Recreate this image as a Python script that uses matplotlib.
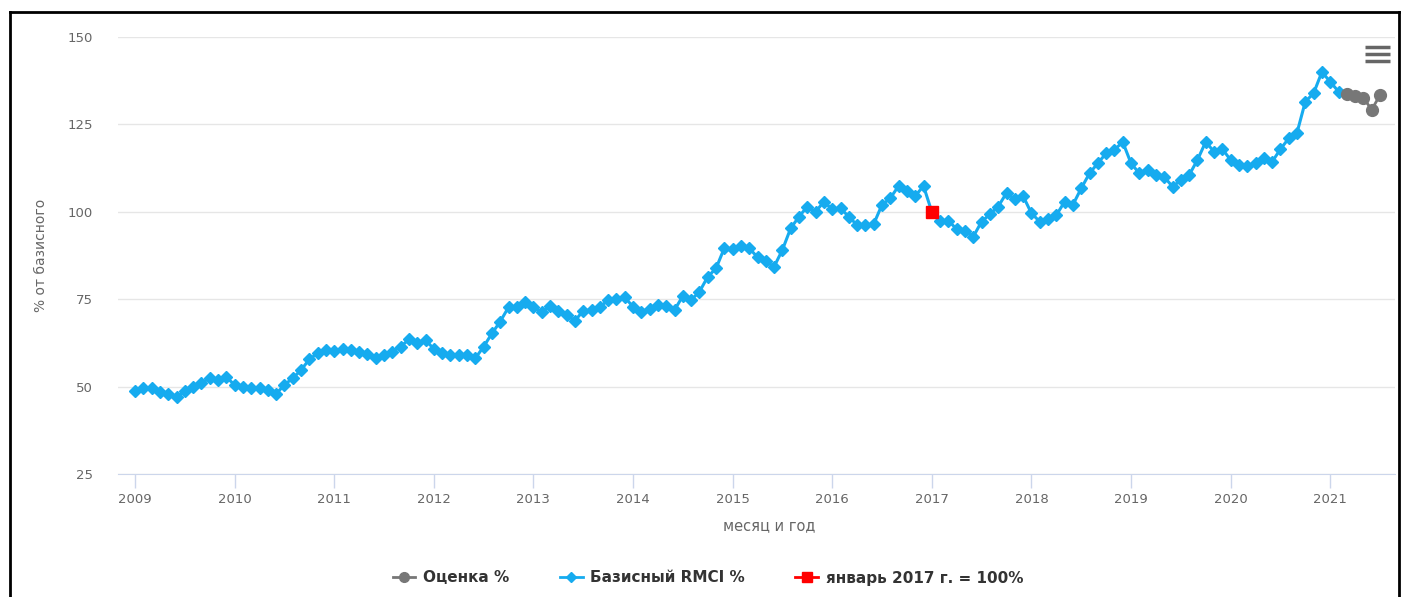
### Load packages

import matplotlib
matplotlib.use("Agg")
import matplotlib.pyplot as plt
from matplotlib.lines import Line2D
import numpy as np

### Data (monthly index, % of January 2017)

blue_values = [
    48.6, 49.5, 49.5, 48.5, 47.8, 46.9, 48.8, 50.0, 51.1, 52.4, 51.9, 52.7,    # 2009
    50.5, 50.0, 49.7, 49.5, 49.0, 47.9, 50.5, 52.4, 54.7, 57.8, 59.5, 60.5,    # 2010
    60.3, 60.7, 60.6, 60.0, 59.3, 58.1, 59.0, 60.0, 61.4, 63.5, 62.6, 63.3,    # 2011
    60.8, 59.5, 59.1, 59.1, 59.1, 58.1, 61.4, 65.2, 68.6, 72.7, 72.7, 74.3,    # 2012
    72.7, 71.4, 73.0, 71.7, 70.5, 68.8, 71.7, 71.9, 72.7, 74.8, 75.0, 75.5,    # 2013
    72.9, 71.4, 72.3, 73.3, 73.0, 71.9, 75.9, 74.8, 77.1, 81.4, 83.8, 89.6,    # 2014
    89.3, 90.2, 89.6, 87.0, 85.8, 84.3, 89.1, 95.3, 98.6, 101.5, 100.0, 102.9, # 2015
    100.7, 101.0, 98.6, 96.2, 96.2, 96.5, 102.0, 103.9, 107.4, 106.0, 104.5, 107.4,  # 2016
    100.0, 97.5, 97.5, 95.0, 94.4, 92.9, 97.2, 99.3, 101.5, 105.4, 103.6, 104.5,     # 2017
    99.6, 97.2, 98.0, 99.0, 102.9, 102.0, 106.7, 111.0, 113.9, 116.7, 117.7, 120.0,  # 2018
    113.9, 111.0, 112.0, 110.5, 110.0, 107.2, 109.0, 110.5, 114.8, 120.0, 117.2, 118.0,  # 2019
    114.8, 113.4, 113.0, 114.0, 115.5, 114.3, 117.9, 121.0, 122.6, 131.5, 133.9, 140.0,  # 2020
    137.2, 134.4,  # 2021
]
blue_start = 2009.0

grey_values = [133.8, 133.0, 132.6, 129.2, 133.4]   # Mar-Jul 2021
grey_start = 2021.0 + 2 / 12

base_x = [2017.0]
base_y = [100.0]

year_ticks = list(range(2009, 2022))
y_ticks = [25, 50, 75, 100, 125, 150]

### Build x positions (fractional years)

blue_x = blue_start + np.arange(len(blue_values)) / 12
grey_x = grey_start + np.arange(len(grey_values)) / 12

### Figure

plt.rcParams['font.family'] = ['DejaVu Sans']

W, H = 1402, 597
fig = plt.figure(figsize=(W / 100, H / 100), dpi=100)
ax = fig.add_axes([118 / W, 1 - 474 / H, (1395 - 118) / W, (474 - 37) / H])

blue = '#16abef'
grey = '#777777'
red = '#ff0000'

ax.plot(blue_x, blue_values, color=blue, lw=2.2, marker='D', ms=6.5,
        label='Базисный RMCI %', zorder=3)
ax.plot(grey_x, grey_values, color=grey, lw=2, marker='o', ms=8.5,
        label='Оценка %', zorder=3)
ax.plot(base_x, base_y, color=red, lw=2, marker='s', ms=8.5, ls='none',
        label='январь 2017 г. = 100%', zorder=4)

## Axes styling

ax.set_xlim(2009 - 17 / 99.6, 2009 + 1260 / 99.6)
ax.set_ylim(25, 150)
ax.set_xticks(year_ticks)
ax.set_xticklabels([str(y) for y in year_ticks])
ax.set_yticks(y_ticks)
ax.grid(axis='y', color='#e6e6e6', lw=1)
ax.set_axisbelow(True)
for s in ['top', 'right', 'left']:
    ax.spines[s].set_visible(False)
ax.spines['bottom'].set_color('#ccd6eb')
ax.tick_params(axis='x', colors='#ccd6eb', length=10, width=1, labelcolor='#666666',
               labelsize=9.5, pad=4)
ax.tick_params(axis='y', length=0, labelcolor='#666666', labelsize=9.5, pad=18)

ax.set_ylabel('% от базисного', color='#666666', fontsize=10)
ax.yaxis.set_label_coords(-70 / 1277, 0.5)
ax.set_xlabel('месяц и год', color='#666666', fontsize=10.5)
ax.xaxis.set_label_coords(0.51, -44 / 437)

## Legend (grey, blue, red order)

h, l = ax.get_legend_handles_labels()
order = [1, 0, 2]
leg_handles = [
    Line2D([], [], color=grey, lw=2, marker='o', ms=7),
    Line2D([], [], color=blue, lw=2, marker='D', ms=5),
    Line2D([], [], color=red, lw=2, marker='s', ms=7),
]
fig.legend(leg_handles, [l[i] for i in order], loc='center', ncol=3,
           bbox_to_anchor=(708 / W, 1 - 578 / H), frameon=False,
           prop={'weight': 'bold', 'size': 11}, labelcolor='#333333',
           handlelength=1.5, handletextpad=0.5, columnspacing=3.3)

## Menu icon top right

for yy in [47, 54, 61]:
    fig.add_artist(Line2D([1365 / W, 1390 / W], [1 - yy / H, 1 - yy / H],
                          color='#666666', lw=2.5, solid_capstyle='butt'))

## Outer frame

frame_kw = dict(color='black', lw=2)
fig.add_artist(Line2D([10 / W, 10 / W], [0, 1 - 12 / H], **frame_kw))
fig.add_artist(Line2D([10 / W, 1399 / W], [1 - 12 / H, 1 - 12 / H], **frame_kw))
fig.add_artist(Line2D([1399 / W, 1399 / W], [0, 1 - 12 / H], **frame_kw))

fig.savefig('out.png', dpi=100)
